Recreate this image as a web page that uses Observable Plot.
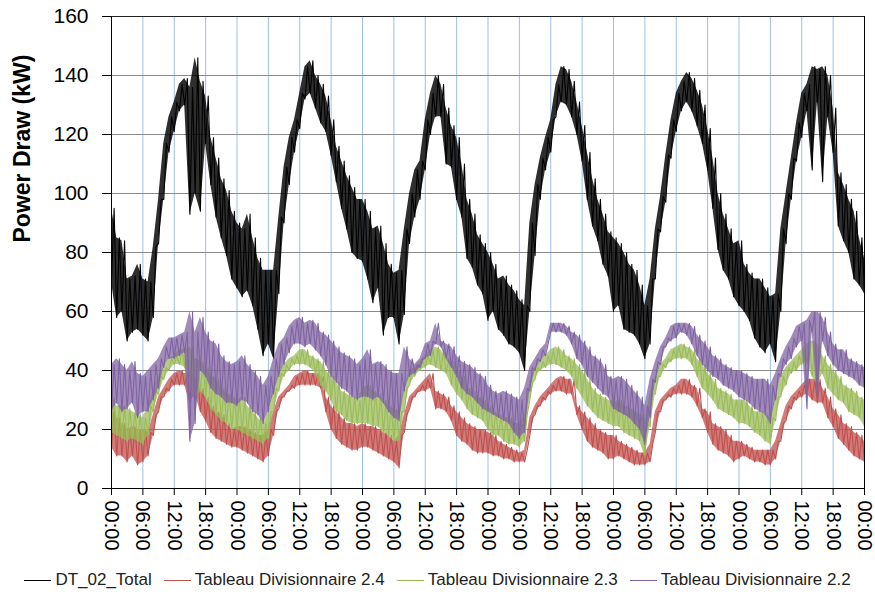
<!DOCTYPE html>
<html><head><meta charset="utf-8">
<script src="https://cdn.jsdelivr.net/npm/d3@7"></script>
<script src="https://cdn.jsdelivr.net/npm/@observablehq/plot@0.6"></script>
<style>
body{margin:0;background:#fff;font-family:"Liberation Sans",Arial,sans-serif;}
#legend{display:flex;justify-content:center;align-items:center;height:30px;font-size:17px;color:#222;width:875px;}
.item{display:flex;align-items:center;margin:0 6px;white-space:nowrap;}
.sw{display:inline-block;width:27px;height:0;border-top:1.5px solid;margin-right:4px;}
</style></head><body>
<div id="chart"></div><div id="legend"></div>
<script>
// ---- Data (hourly low / high envelope of each series) ----
const seriesNames = ["DT_02_Total", "Tableau Divisionnaire 2.4", "Tableau Divisionnaire 2.3", "Tableau Divisionnaire 2.2"];
const seriesColors = ["#000000", "#c0504d", "#9bbb59", "#8064a2"];

const tickHours = [0,6,12,18,24,30,36,42,48,54,60,66,72,78,84,90,96,102,108,114,120,126,132,138,144];
const tickLabels = ["00:00","06:00","12:00","18:00","00:00","06:00","12:00","18:00","00:00","06:00","12:00","18:00","00:00","06:00","12:00","18:00","00:00","06:00","12:00","18:00","00:00","06:00","12:00","18:00","00:00"];
const yTicks = [0,20,40,60,80,100,120,140,160];

// DT_02_Total
const totalHi = [
 95,85,84,71,72,76,71,70,82,98,117,126,131,137,139,136,146,138,133,119,112,105,101,94,
 90,88,93,85,78,74,74,74,92,109,119,125,134,143,145,140,137,133,125,116,111,106,102,98,
 98,94,88,89,83,76,73,74,88,100,108,111,125,134,140,137,129,123,119,110,98,93,86,83,
 80,76,71,72,69,67,64,62,90,103,112,119,125,137,143,142,138,131,123,114,105,98,93,87,
 85,83,80,76,74,69,62,71,88,99,113,125,134,138,141,139,135,130,122,112,100,93,88,83,
 84,76,73,71,71,68,65,66,88,100,112,124,134,137,143,142,143,140,129,107,103,98,94,85,
 78];
const totalLo = [
 70,58,60,50,53,54,52,50,58,83,98,114,121,128,130,93,100,94,117,103,92,85,79,71,
 68,65,67,62,54,45,49,44,66,90,103,114,122,132,134,129,124,121,113,104,95,88,80,78,
 77,71,63,68,52,58,58,49,59,83,92,98,108,120,126,126,110,109,98,92,78,75,69,66,
 57,60,54,52,49,48,46,40,60,79,98,108,114,126,131,130,126,120,111,98,89,84,76,72,
 60,62,54,53,52,49,44,49,71,87,97,112,121,128,131,128,123,117,108,95,81,74,71,65,
 62,60,57,51,48,46,49,43,60,83,98,111,119,128,108,131,104,126,114,89,84,80,71,69,
 66];
// Tableau Divisionnaire 2.4
const td24Hi = [
 27,24,22,20,21,20,20,19,25,31,34,37,39,40,39,39,38,34,31,28,26,25,22,20,
 21,21,20,19,18,18,20,26,31,33,35,38,39,40,39,39,38,31,28,26,24,22,22,21,
 22,21,21,20,19,18,16,18,25,31,33,35,37,39,33,32,31,28,26,24,22,21,20,20,
 19,18,16,15,14,13,12,13,24,28,31,33,35,37,38,37,37,28,26,24,22,20,19,18,
 18,16,15,14,13,12,12,15,26,30,32,34,35,37,37,35,34,27,26,22,21,20,18,16,
 16,15,14,13,13,13,13,16,22,28,31,33,35,37,37,37,34,31,27,25,22,21,19,18,
 16];
const td24Lo = [
 14,11,11,9,11,8,9,11,18,26,31,33,35,35,35,29,32,26,23,19,17,16,15,14,
 14,13,12,11,10,9,11,18,27,31,33,34,35,35,35,35,34,26,20,17,15,14,13,13,
 14,14,13,12,11,10,9,7,19,27,31,33,33,34,27,27,26,23,18,16,15,13,12,12,
 12,11,11,10,10,9,9,9,18,25,28,30,32,33,33,32,32,25,20,16,14,13,12,10,
 10,11,10,9,8,8,8,9,19,26,30,31,32,32,32,31,28,24,19,15,13,12,11,9,
 10,11,10,9,9,8,8,10,16,23,27,30,31,32,30,29,29,24,21,17,15,13,11,10,
 9];
// Tableau Divisionnaire 2.3
const td23Hi = [
 31,28,28,27,26,25,24,28,33,38,41,44,45,47,47,48,44,43,41,38,37,34,32,31,
 30,31,28,26,24,22,26,34,39,42,44,45,47,47,45,44,43,40,38,36,33,32,31,30,
 34,35,33,32,30,28,27,26,34,40,41,43,45,47,48,47,44,43,40,38,34,33,31,30,
 28,26,25,24,24,22,22,25,36,41,43,45,47,48,47,45,44,42,40,37,34,32,31,30,
 29,30,28,27,26,25,22,32,38,42,44,47,48,49,48,47,44,42,39,37,34,33,32,30,
 30,30,28,26,26,25,24,31,38,41,43,45,47,49,50,49,45,42,40,38,35,34,33,31,
 30];
const td23Lo = [
 19,18,17,16,17,16,15,18,26,32,37,40,42,42,41,33,30,33,31,27,25,23,22,20,
 20,19,18,17,16,15,17,26,33,38,40,42,42,42,41,39,35,33,30,26,25,23,22,22,
 22,22,21,21,19,18,16,16,26,35,38,40,41,42,41,40,39,35,32,30,27,25,24,23,
 20,18,18,16,15,15,14,16,30,37,40,41,42,42,41,40,38,34,31,28,26,24,23,22,
 21,21,19,18,17,16,11,21,32,38,41,43,44,44,44,42,38,34,32,30,27,26,25,24,
 22,22,21,19,18,16,15,23,31,35,39,40,42,43,38,35,39,34,32,30,29,26,25,24,
 21];
// Tableau Divisionnaire 2.2
const td22Hi = [
 42,44,42,40,43,39,38,40,42,44,48,51,51,52,53,60,53,58,53,50,49,45,43,42,
 43,45,42,40,38,35,38,44,49,51,55,57,58,56,57,56,53,52,50,48,46,45,44,42,
 44,47,42,43,42,40,39,39,48,44,42,44,49,50,56,50,49,48,45,43,42,41,39,38,
 35,33,32,33,32,31,30,34,41,44,47,49,56,56,56,55,53,52,50,48,45,44,42,38,
 37,38,37,35,33,31,28,37,43,48,51,55,56,56,56,55,52,50,48,45,44,42,41,40,
 40,39,38,37,37,37,35,39,44,48,51,55,56,57,60,60,58,53,49,47,47,44,43,42,
 41];
const td22Lo = [
 26,29,26,27,29,24,26,26,30,34,41,44,44,45,46,16,22,40,38,34,32,31,29,29,
 28,30,29,26,25,22,26,32,38,42,46,49,49,48,49,47,45,42,38,36,34,33,31,30,
 31,31,30,31,29,26,24,23,33,38,39,41,44,45,49,48,44,41,38,34,32,31,29,27,
 26,25,24,23,22,19,17,19,33,40,43,45,53,53,53,52,49,44,42,38,36,34,32,31,
 27,26,25,24,22,20,15,24,36,42,48,50,51,53,52,49,45,42,40,38,37,35,34,33,
 31,30,29,27,26,25,22,30,38,42,44,48,50,27,53,30,50,45,42,40,39,38,37,35,
 34];

// ---- Build tables: envelope band + zig-zag trace (low at the hour, high at the half hour) ----
const envelopes = [[totalLo,totalHi],[td24Lo,td24Hi],[td23Lo,td23Hi],[td22Lo,td22Hi]];
const rows = [], bands = [];
envelopes.forEach(([lo,hi],s) => {
  lo.forEach((v,i) => {
    bands.push({series: seriesNames[s], t: i, lo: v, hi: hi[i]});
    rows.push({series: seriesNames[s], t: i, v: v});
    if (i < lo.length - 1) rows.push({series: seriesNames[s], t: i + 0.5, v: hi[i]});
    else rows.push({series: seriesNames[s], t: i, v: hi[i]});
  });
});

const marksFor = (name) => [
  Plot.areaY(bands.filter(d => d.series === name), {x: "t", y1: "lo", y2: "hi", fill: "series", fillOpacity: name === seriesNames[0] ? 0.82 : 0.75}),
  Plot.line(rows.filter(d => d.series === name), {x: "t", y: "v", stroke: "series", strokeWidth: 1.1})
];

const chart = Plot.plot({
  width: 875, height: 565,
  marginLeft: 111, marginRight: 11, marginTop: 16, marginBottom: 77,
  style: {fontFamily: "'Liberation Sans', Arial, sans-serif", fontSize: "21px", color: "#000", background: "#fff", overflow: "visible"},
  x: {domain: [0, 144]},
  y: {domain: [0, 160]},
  color: {domain: seriesNames, range: seriesColors},
  marks: [
    Plot.gridX(tickHours, {stroke: "#9dbfe9", strokeOpacity: 1, strokeWidth: 1}),
    Plot.gridY(yTicks, {stroke: "#8a8a8a", strokeOpacity: 1, strokeWidth: 1}),
    ...marksFor(seriesNames[0]),
    ...marksFor(seriesNames[1]),
    ...marksFor(seriesNames[2]),
    ...marksFor(seriesNames[3]),
    Plot.ruleY([160], {stroke: "#222", strokeWidth: 1}),
    Plot.ruleX([144], {stroke: "#000", strokeWidth: 1}),
    Plot.ruleX([0], {stroke: "#000", strokeWidth: 1}),
    Plot.ruleY([0], {stroke: "#000", strokeWidth: 1}),
    Plot.axisY({ticks: yTicks, tickSize: 9, tickPadding: 14, label: null, tickFormat: d => String(d)}),
    Plot.axisX({ticks: tickHours, tickSize: 7, tickPadding: 5, tickRotate: 90, label: null, fontSize: 20,
      tickFormat: d => tickLabels[tickHours.indexOf(d)]}),
    Plot.text(["Power Draw (kW)"], {text: d => d, frameAnchor: "left", dx: -89, dy: -10, rotate: -90,
      fontWeight: "bold", fontSize: 23, fill: "#000"})
  ]
});
document.getElementById("chart").appendChild(chart);

const legend = document.getElementById("legend");
seriesNames.forEach((n, i) => {
  const it = document.createElement("div"); it.className = "item";
  const sw = document.createElement("span"); sw.className = "sw"; sw.style.borderTopColor = seriesColors[i];
  const tx = document.createElement("span"); tx.textContent = n;
  it.appendChild(sw); it.appendChild(tx); legend.appendChild(it);
});
</script>
</body></html>
